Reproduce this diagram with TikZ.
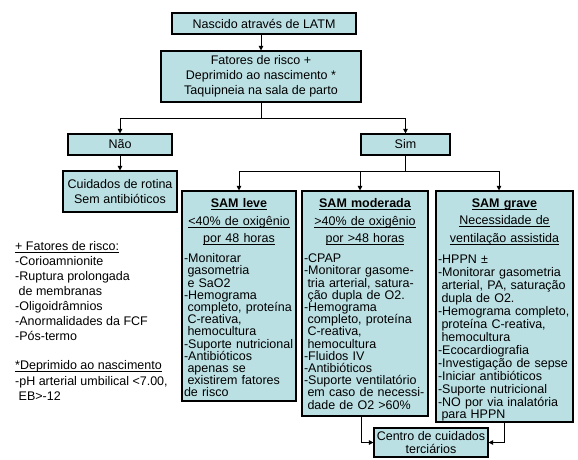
\documentclass[tikz,border=0pt]{standalone}
\usepackage{fontspec}
\setmainfont{Liberation Sans}
\usetikzlibrary{arrows.meta,positioning,calc}
\definecolor{boxfill}{RGB}{187,224,227}
\newcommand{\mainsize}{\fontsize{12.5}{15}\selectfont}
\newcommand{\listsize}{\fontsize{12.5}{12.2}\selectfont\lineskiplimit=-20pt}
\newcommand{\ulbox}[1]{\leavevmode\setbox0\hbox{#1}\rlap{\rule[-2.2pt]{\wd0}{0.9pt}}\box0}
\newcommand{\cont}{\hspace*{3.5pt}}
\tikzset{
  flow/.style={-{Triangle[length=4.5pt,width=4.5pt]}, line width=1pt},
  flowbox/.style={
    draw, line width=1.1pt, fill=boxfill,
    align=center, inner sep=0pt, font=\mainsize
  },
  sambox/.style={draw, line width=1.1pt, fill=boxfill, inner sep=0pt},
  samtext/.style={
    anchor=north, align=left, inner xsep=0pt, inner ysep=8pt,
    font=\listsize
  },
  note/.style={
    anchor=north west, align=left, inner sep=0pt,
    font={\fontsize{12.5}{15.1}\selectfont}
  }
}

\begin{document}
\begin{tikzpicture}[x=1pt, y=-1pt]
\useasboundingbox (0,0) rectangle (578,459);

%--------------------------------------------------
% Top of the chart
%--------------------------------------------------
\node[flowbox, minimum width=184pt, minimum height=21pt] (latm) at (264,23.5)
{Nascido através de LATM};

\node[flowbox, minimum width=200pt, minimum height=51pt] (fatores) at (261,76.5)
{Fatores de risco +\\Deprimido ao nascimento *\\Taquipneia na sala de parto};

\node[flowbox, minimum width=104pt, minimum height=21pt] (nao) at (120,144.5) {Não};

\node[flowbox, minimum width=89pt, minimum height=21pt] (sim) at (405.5,144.5) {Sim};

\node[flowbox, minimum width=114pt, minimum height=41pt] (rotina) at (120,191.5)
{Cuidados de rotina\\Sem antibióticos};

% arrows down to the two answers
\draw[flow] (latm.south -| fatores.north) -- (fatores.north);
\coordinate (split1) at ([yshift=-16pt]fatores.south);
\draw[line width=1pt] (fatores.south) -- (split1);
\draw[flow] (split1) -| (nao.north);
\draw[flow] (split1) -| (sim.north);
\draw[flow] (nao.south) -- (rotina.north);

%--------------------------------------------------
% SAM boxes
%--------------------------------------------------
\node[sambox, minimum width=114pt, minimum height=210pt] (leve) at (239,296) {};
\node[sambox, minimum width=126pt, minimum height=225pt] (moderada) at (365,303.5) {};
\node[sambox, minimum width=137pt, minimum height=231pt] (grave) at (504.5,306.5) {};

\node[samtext, text width=110pt] (levetxt) at (leve.north)
{{\centering\textbf{\ulbox{SAM leve}}\\[5.3pt]
\ulbox{<40\% de oxigênio}\\[5.3pt]
\ulbox{por 48 horas}\par}\vspace{7.8pt}
-Monitorar\\
\cont gasometria\\
\cont e SaO2\\
-Hemograma\\
\cont completo, proteína\\
\cont C-reativa,\\
\cont hemocultura\\
-Suporte nutricional\\
-Antibióticos\\
\cont apenas se\\
\cont existirem fatores\\
de risco};

\node[samtext, text width=122pt] (moderadatxt) at (moderada.north)
{{\centering\textbf{\ulbox{SAM moderada}}\\[5.3pt]
\ulbox{>40\% de oxigênio}\\[5.3pt]
\ulbox{por >48 horas}\par}\vspace{7.8pt}
-CPAP\\
-Monitorar gasome-\\
\cont tria arterial, satura-\\
\cont ção dupla de O2.\\
-Hemograma\\
\cont completo, proteína\\
\cont C-reativa,\\
\cont hemocultura\\
-Fluidos IV\\
-Antibióticos\\
-Suporte ventilatório\\
\cont em caso de necessi-\\
\cont dade de O2 >60\%};

% the last box is set a little looser
\node[samtext, text width=133pt] (gravetxt) at (grave.north)
{{\centering\textbf{\ulbox{SAM grave}}\\[5.3pt]
\ulbox{Necessidade de}\\[5.3pt]
\ulbox{ventilação assistida}\par}\vspace{7.8pt}
\baselineskip=13pt
-HPPN ±\\
-Monitorar gasometria\\
\cont arterial, PA, saturação\\
\cont dupla de O2.\\
-Hemograma completo,\\
\cont proteína C-reativa,\\
\cont hemocultura\\
-Ecocardiografia\\
-Investigação de sepse\\
-Iniciar antibióticos\\
-Suporte nutricional\\
-NO por via inalatória\\
\cont para HPPN};

% arrows from Sim to the three boxes
\coordinate (split2) at ([yshift=-16pt]sim.south);
\draw[line width=1pt] (sim.south) -- (split2);
\draw[flow] (split2) -| (leve.north);
\draw[flow] (split2) -| ([xshift=-5pt]moderada.north);
\draw[flow] (split2) -| ([xshift=-5.5pt]grave.north);

%--------------------------------------------------
% Tertiary care
%--------------------------------------------------
\node[flowbox, font=\listsize, minimum width=114pt, minimum height=29pt] (centro) at (431,442.5)
{Centro de cuidados\\terciários};

\draw[flow] ([xshift=-4pt]moderada.south) |- (centro.west);
\draw[flow] (grave.south) |- (centro.east);

%--------------------------------------------------
% Footnotes on the left
%--------------------------------------------------
\node[note] (notes) at (15,241) {
\ulbox{+ Fatores de risco:}\\
-Corioamnionite\\
-Ruptura prolongada\\
\cont de membranas\\
-Oligoidrâmnios\\
-Anormalidades da FCF\\
-Pós-termo\\[14pt]
\ulbox{*Deprimido ao nascimento}\\
-pH arterial umbilical <7.00,\\
\cont EB>-12
};

\end{tikzpicture}
\end{document}
